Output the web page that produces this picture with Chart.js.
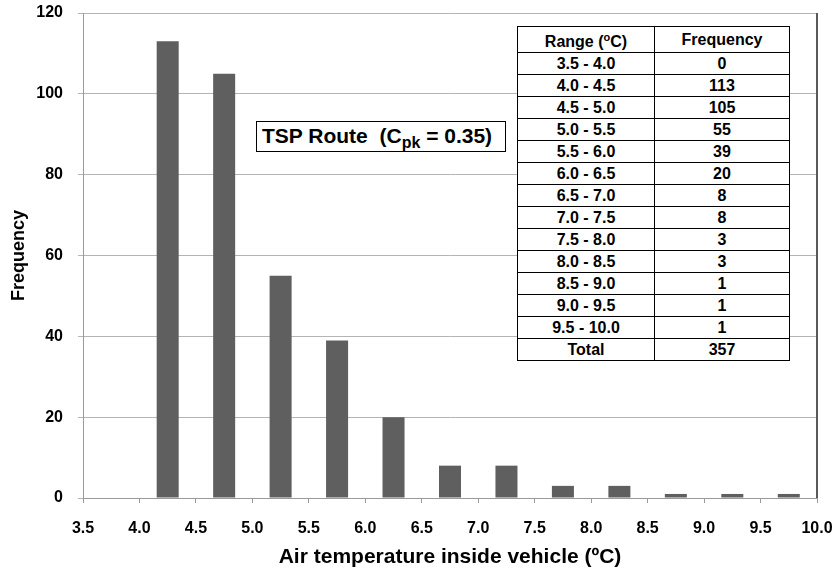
<!DOCTYPE html>
<html>
<head>
<meta charset="utf-8">
<script src="https://cdn.jsdelivr.net/npm/chart.js@4"></script>
<style>
  body { margin: 0; background: #fff; }
  #wrap { position: relative; width: 835px; height: 572px; }
  #freqTable {
    position: absolute; left: 517px; top: 26px; width: 273px;
    border-collapse: collapse; background: #fff;
    font: bold 16px "Liberation Sans", Arial, sans-serif; color: #000;
  }
  #freqTable td { border: 1px solid #000; height: 21px; padding: 0; text-align: center; line-height: 21px; }
  #freqTable td:first-child { width: 136px; }
  #label {
    position: absolute; left: 256px; top: 121px; width: 250px; height: 31px;
    border: 1px solid #000; background: #fff; box-sizing: border-box;
    font: bold 21px "Liberation Sans", Arial, sans-serif; line-height: 27px; padding-left: 5px; white-space: nowrap;
  }
  #label sub { font-size: 16px; vertical-align: -5px; line-height: 0; }
</style>
</head>
<body>
<div id="wrap">
  <canvas id="myChart" width="835" height="572"></canvas>
  <table id="freqTable"></table>
  <div id="label">TSP Route&nbsp; (C<sub>pk</sub> = 0.35)</div>
</div>
<script>
// histogram bins (midpoints) and counts
var rangeLabels = ["3.5 - 4.0", "4.0 - 4.5", "4.5 - 5.0", "5.0 - 5.5", "5.5 - 6.0", "6.0 - 6.5", "6.5 - 7.0",
                   "7.0 - 7.5", "7.5 - 8.0", "8.0 - 8.5", "8.5 - 9.0", "9.0 - 9.5", "9.5 - 10.0"];
var binMids = [3.75, 4.25, 4.75, 5.25, 5.75, 6.25, 6.75, 7.25, 7.75, 8.25, 8.75, 9.25, 9.75];
var frequency = [0, 113, 105, 55, 39, 20, 8, 8, 3, 3, 1, 1, 1];

// table in the corner
var table = document.getElementById('freqTable');
var rows = '<tr><td>Range (<sup style="font-size:11px">o</sup>C)</td><td>Frequency</td></tr>';
var total = 0;
for (var i = 0; i < rangeLabels.length; i++) {
    rows += '<tr><td>' + rangeLabels[i] + '</td><td>' + frequency[i] + '</td></tr>';
    total += frequency[i];
}
rows += '<tr><td>Total</td><td>' + total + '</td></tr>';
table.innerHTML = rows;

var FONT = '"Liberation Sans", Arial, sans-serif';

var rightBorder = {
    id: 'rightBorder',
    afterDraw: function (chart) {
        var a = chart.chartArea, c = chart.ctx;
        c.save();
        c.strokeStyle = '#5a5a5a';
        c.lineWidth = 2;
        c.beginPath();
        c.moveTo(a.right, a.top);
        c.lineTo(a.right, a.bottom);
        c.stroke();
        c.restore();
    }
};

var ctx = document.getElementById('myChart').getContext('2d');
var chart = new Chart(ctx, {
    type: 'bar',
    data: {
        datasets: [{
            label: 'Frequency',
            backgroundColor: '#5f5f5f',
            borderWidth: 0,
            categoryPercentage: 1,
            barPercentage: 0.39,
            data: binMids.map(function (m, i) { return { x: m, y: frequency[i] }; })
        }]
    },
    options: {
        responsive: false,
        animation: false,
        layout: { padding: { top: 13, right: 18, left: 0, bottom: 0 } },
        plugins: { legend: { display: false }, tooltip: { enabled: false } },
        scales: {
            x: {
                type: 'linear',
                min: 3.5, max: 10,
                offset: false,
                grid: { offset: false, drawOnChartArea: false, drawTicks: true, tickLength: 5, color: '#9a9a9a' },
                border: { color: '#9a9a9a' },
                ticks: {
                    stepSize: 0.5, padding: 16, color: '#000', maxRotation: 0, autoSkip: false,
                    font: { family: FONT, size: 16, weight: 'bold' },
                    callback: function (v) { return Number(v).toFixed(1); }
                },
                title: {
                    display: true, text: 'Air temperature inside vehicle (ºC)', color: '#000',
                    font: { family: FONT, size: 21, weight: 'bold' },
                    padding: { top: 2, bottom: 2 }
                },
                afterFit: function (s) { s.height = 74; s.paddingLeft = 0; s.paddingRight = 0; }
            },
            y: {
                min: 0, max: 120,
                grid: { color: '#b4b4b4', tickLength: 5 },
                border: { color: '#9a9a9a' },
                ticks: {
                    stepSize: 20, padding: 15, color: '#000',
                    font: { family: FONT, size: 16, weight: 'bold' }
                },
                title: {
                    display: true, text: 'Frequency', color: '#000',
                    font: { family: FONT, size: 18, weight: 'bold' },
                    padding: { top: 8, bottom: 0 }
                },
                afterFit: function (s) { s.width = 83; s.paddingTop = 0; s.paddingBottom = 0; }
            }
        }
    },
    plugins: [rightBorder]
});
</script>
</body>
</html>
